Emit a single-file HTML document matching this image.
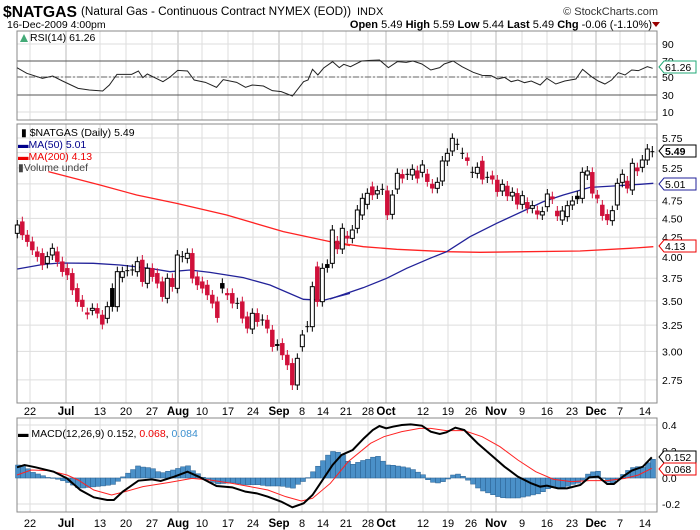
<!DOCTYPE html>
<html><head><meta charset="utf-8"><style>
body{margin:0;background:#fff;}
svg{display:block;font-family:"Liberation Sans",sans-serif;}
</style></head><body>
<svg id="s" width="700" height="530" viewBox="0 0 700 530" xmlns="http://www.w3.org/2000/svg">
<rect width="700" height="530" fill="#fff"/>
<g id="grid"></g>
<g id="cont"></g>
<text x="3" y="17" font-size="16" font-weight="bold" fill="#000" textLength="74" lengthAdjust="spacingAndGlyphs">$NATGAS</text>
<text x="81" y="15" font-size="11.5" textLength="270" lengthAdjust="spacingAndGlyphs">(Natural Gas - Continuous Contract NYMEX (EOD))</text>
<text x="357" y="15" font-size="11">INDX</text>
<text x="7" y="28" font-size="10.5">16-Dec-2009 4:00pm</text>
<text x="658" y="15" font-size="11" text-anchor="end" fill="#333">© StockCharts.com</text>
<text x="652" y="28" font-size="11" text-anchor="end"><tspan font-weight="bold">Open</tspan> 5.49 <tspan font-weight="bold">High</tspan> 5.59 <tspan font-weight="bold">Low</tspan> 5.44 <tspan font-weight="bold">Last</tspan> 5.49 <tspan font-weight="bold">Chg</tspan> -0.06 (-1.10%)</text>
<path d="M652,22 l8,0 l-4,5z" fill="#900"/>
<text x="30" y="41" font-size="10.5">RSI(14) 61.26</text>
<path d="M20,42 l4,-8 l4,8z" fill="#4a7"/>
<text x="21" y="136" font-size="10.5">▮ $NATGAS (Daily) 5.49</text>
<text x="18" y="148" font-size="10.5" fill="#00008b">▬MA(50) 5.01</text>
<text x="18" y="160" font-size="10.5" fill="#e00">▬MA(200) 4.13</text>
<text x="18" y="171" font-size="10.5" fill="#444">▮Volume undef</text>
<text x="18" y="437" font-size="10.5"><tspan>▬ MACD(12,26,9) 0.152, </tspan><tspan fill="#e00">0.068</tspan><tspan>, </tspan><tspan fill="#3a8fcf">0.084</tspan></text>
</svg>
<script>
const NS="http://www.w3.org/2000/svg";
const G=document.getElementById('grid'),C=document.getElementById('cont');
function el(p,t,a,txt){const e=document.createElementNS(NS,t);for(const k in a)e.setAttribute(k,a[k]);if(txt!==undefined)e.textContent=txt;p.appendChild(e);return e;}
const L=17,R=657;
const panels=[[31,120],[124,403],[418,512]];
const dl=[["22",30,0],["Jul",66,1],["13",100,0],["20",126,0],["27",152,0],["Aug",178,1],["10",202,0],["17",228,0],["24",253,0],["Sep",279,1],["8",302,0],["14",323,0],["21",346,0],["28",368,0],["Oct",386,1],["12",423,0],["19",448,0],["26",471,0],["Nov",496,1],["9",522,0],["16",547,0],["23",572,0],["Dec",596,1],["7",620,0],["14",645,0]];
for(const p of panels){
 for(const d of dl) el(G,'line',{x1:d[1],x2:d[1],y1:p[0],y2:p[1],stroke:d[2]?'#bbb':'#ddd','stroke-width':1});
}
for(const [v,y] of [[90,44],[70,61],[50,77],[30,95],[10,112]]){
 el(G,'line',{x1:L,x2:R,y1:y,y2:y,stroke:'#ddd'});
 el(C,'text',{x:662,y:y+4,'font-size':10.5},v);
}
el(C,'line',{x1:L,x2:R,y1:61,y2:61,stroke:'#555'});
el(C,'line',{x1:L,x2:R,y1:95,y2:95,stroke:'#555'});
el(C,'line',{x1:L,x2:R,y1:77,y2:77,stroke:'#666','stroke-dasharray':'6,2,2,2'});
const py=p=>138+328*(Math.log(5.75)-Math.log(p));
for(let v=2.75;v<=5.76;v+=0.25){const y=py(v);el(G,'line',{x1:L,x2:R,y1:y,y2:y,stroke:'#ddd'});el(C,'text',{x:662,y:y+4,'font-size':10.5},v.toFixed(2));}
for(const [v,y] of [["0.4",425],["0.2",451],["0.0",478],["-0.2",504]]){el(G,'line',{x1:L,x2:R,y1:y,y2:y,stroke:'#ddd'});el(C,'text',{x:662,y:y+4,'font-size':10.5},v);}
for(const p of panels) el(C,'rect',{x:L,y:p[0],width:R-L,height:p[1]-p[0],fill:'none',stroke:'#888'});
for(const yy of [415,527]) for(const d of dl) el(C,'text',{x:d[1],y:yy,'font-size':d[2]?11.5:11,'font-weight':d[2]?'bold':'normal','text-anchor':'middle'},d[0]);
function poly(pts,fx,fy,stroke,w){el(C,'polyline',{points:pts.map(p=>fx(p[0])+','+fy(p[1])).join(' '),fill:'none',stroke:stroke,'stroke-width':w});}
const rsi=[[38,203],[60,220],[95,235],[118,228],[140,243],[175,265],[200,270],[230,273],[245,255],[262,223],[295,223],[310,213],[320,233],[330,222],[365,245],[380,232],[398,211],[420,213],[435,240],[460,247],[485,262],[500,239],[530,247],[550,262],[565,255],[590,258],[610,272],[630,275],[655,288],[680,245],[690,240],[700,208],[712,225],[725,204],[745,185],[760,203],[770,193],[785,200],[810,183],[830,181],[850,180],[870,203],[890,185],[910,187],[925,183],[945,192],[965,210],[985,203],[995,192],[1015,183],[1035,200],[1060,217],[1080,226],[1100,227],[1115,237],[1130,232],[1145,245],[1160,240],[1175,248],[1190,243],[1210,255],[1225,235],[1245,252],[1265,243],[1290,237],[1305,208],[1325,230],[1340,243],[1355,252],[1370,240],[1385,218],[1400,225],[1415,210],[1430,212],[1450,200],[1462,205]];
poly(rsi,x=>x/2.24,y=>y/3,'#222',1);
const z3x=x=>10+x/3,z3y=y=>125+y/3,z4x=x=>330+x/3;
poly([[115,140],[270,180],[380,210],[500,235],[650,270],[820,320],[960,350],[1020,362]],z3x,z3y,'#f22',1.3);
poly([[0,350],[100,365],[200,373],[350,380],[450,382],[750,378],[900,370],[970,365]],z4x,z3y,'#f22',1.3);
poly([[22,432],[100,418],[150,414],[250,415],[330,420],[420,430],[480,440],[540,435],[600,442],[700,458],[780,480],[880,523],[940,526],[1020,505]],z3x,z3y,'#229',1.3);
poly([[0,522],[100,488],[170,460],[230,430],[300,400],[350,380],[420,335],[500,295],[580,258],[640,230],[700,210],[780,187],[850,183],[930,178],[970,175]],z4x,z3y,'#229',1.3);
const c3=[[22,300,325,'w'],[37,290,330,'r'],[52,330,350,'r'],[67,350,375,'r'],[82,380,395,'r'],[97,385,420,'r'],[112,395,415,'w'],[127,370,390,'w'],[142,380,410,'r'],[157,410,440,'r'],[172,430,450,'r'],[187,445,495,'r'],[202,490,530,'r'],[217,525,545,'r'],[232,563,568,'r'],[247,550,556,'w'],[262,550,565,'r'],[277,570,598,'r'],[292,545,580,'w'],[307,490,545,'b'],[322,440,545,'w'],[337,440,457,'w'],[352,435,439,'d'],[367,433,437,'d'],[382,410,440,'w'],[397,405,470,'r'],[412,430,475,'w'],[427,430,455,'r'],[442,445,475,'r'],[457,470,515,'r'],[472,460,520,'w'],[487,460,485,'r'],[502,390,490,'w'],[517,393,397,'d'],[532,385,400,'w'],[547,385,460,'r'],[562,455,480,'r'],[577,470,490,'r'],[592,480,510,'r'],[607,510,535,'r'],[622,530,578,'r'],[637,475,490,'b'],[652,505,510,'r'],[667,505,535,'r'],[682,533,537,'d'],[697,530,580,'r'],[712,575,610,'r'],[727,565,612,'w'],[742,565,590,'r'],[757,583,587,'d'],[772,585,610,'r'],[787,615,665,'r'],[802,658,662,'b'],[817,655,690,'r'],[832,690,720,'r'],[847,715,780,'r'],[862,700,780,'w'],[877,630,665,'w'],[892,603,607,'d'],[907,485,605,'w'],[922,425,530,'r'],[937,430,530,'w'],[952,418,428,'b'],[967,315,415,'w']];
const c4=[[22,348,372,'r'],[37,310,372,'w'],[52,333,340,'r'],[67,315,340,'w'],[82,255,310,'w'],[97,220,270,'w'],[112,205,238,'w'],[127,185,210,'r'],[142,197,207,'w'],[157,191,195,'d'],[172,197,270,'r'],[187,210,268,'w'],[202,145,192,'w'],[217,148,160,'r'],[232,146,150,'d'],[247,133,150,'w'],[262,137,160,'r'],[277,120,142,'w'],[292,147,170,'r'],[307,177,190,'r'],[322,172,190,'w'],[337,108,168,'w'],[352,85,108,'w'],[367,40,78,'w'],[382,56,60,'d'],[397,83,87,'d'],[412,98,107,'r'],[427,140,144,'d'],[442,127,145,'w'],[457,108,163,'r'],[472,155,159,'d'],[487,152,163,'r'],[502,165,200,'r'],[517,178,198,'w'],[532,183,213,'r'],[547,202,213,'w'],[562,205,238,'r'],[577,212,238,'w'],[592,232,250,'r'],[607,242,250,'w'],[622,257,268,'r'],[637,260,270,'w'],[652,207,245,'w'],[667,215,222,'r'],[682,258,273,'r'],[697,258,285,'w'],[712,242,275,'w'],[727,228,240,'w'],[742,213,222,'b'],[757,142,220,'w'],[772,138,150,'w'],[787,142,205,'r'],[802,210,220,'r'],[817,240,272,'r'],[832,268,285,'r'],[847,257,287,'w'],[862,175,240,'w'],[877,148,172,'w'],[892,168,190,'r'],[907,115,195,'w'],[922,128,138,'r'],[937,105,127,'w'],[952,72,105,'w'],[967,78,82,'d']];
function candle(x,t,b,tp){
 const top=125+t/3,bot=125+b/3;
 const col=tp==='r'?'#d0103a':'#000';
 el(C,'line',{x1:x,x2:x,y1:top-5,y2:bot+5,stroke:col,'stroke-width':1});
 if(tp==='d'){el(C,'line',{x1:x-2,x2:x+2,y1:(top+bot)/2,y2:(top+bot)/2,stroke:col});return;}
 el(C,'rect',{x:x-2,y:top,width:4,height:Math.max(1,bot-top),fill:tp==='w'?'#fff':col,stroke:col,'stroke-width':tp==='w'?1:0.5});
}
for(const c of c3) candle(z3x(c[0]),c[1],c[2],c[3]);
for(const c of c4) candle(z4x(c[0]),c[1],c[2],c[3]);
const mb=[[38,262],[55,255],[80,262],[120,275],[150,295],[180,330],[210,352],[240,360],[255,360],[275,335],[310,302],[340,298],[360,303],[390,290],[420,275],[445,290],[485,318],[520,322],[550,335],[575,340],[600,350],[630,365],[655,382],[680,370],[700,345],[720,305],[745,255],[765,225],[790,210],[815,175],[835,150],[850,138],[865,145],[880,140],[900,135],[920,133],[945,137],[965,155],[985,162],[1000,157],[1020,143],[1040,150],[1070,190],[1100,225],[1130,260],[1160,290],[1190,310],[1210,320],[1225,317],[1250,325],[1270,325],[1300,315],[1320,292],[1340,290],[1360,312],[1375,312],[1395,290],[1415,272],[1440,260],[1460,232]];
const mr=[[38,285],[70,270],[110,272],[150,285],[175,300],[210,330],[250,345],[280,335],[320,320],[380,307],[430,295],[470,300],[520,310],[560,320],[600,330],[640,350],[675,363],[700,355],[740,310],[780,245],[830,190],[860,170],[900,155],[940,145],[965,145],[1000,152],[1040,152],[1080,170],[1120,200],[1160,240],[1200,275],[1240,298],[1280,305],[1320,302],[1360,302],[1400,295],[1430,285],[1460,265]];
function interp(a,x){for(let i=0;i<a.length-1;i++){if(x>=a[i][0]&&x<=a[i+1][0]){const f=(x-a[i][0])/(a[i+1][0]-a[i][0]);return a[i][1]+f*(a[i+1][1]-a[i][1]);}}return x<a[0][0]?a[0][1]:a[a.length-1][1];}
for(let ox=18;ox<=655;ox+=5){
 const zx=ox*2.24;let d=(interp(mr,zx)-interp(mb,zx))/3;
 d*= d>0?1.7:1.2;
 const y0=478,y1=478-d;
 el(C,'rect',{x:ox-2.5,y:Math.min(y0,y1),width:5,height:Math.max(0.5,Math.abs(d)),fill:'#4a90c8',stroke:'#2a6090','stroke-width':0.5});
}
poly(mr,x=>x/2.24,y=>380+y/3,'#f22',1);
poly(mb,x=>x/2.24,y=>380+y/3,'#000',2);
function tag(y,txt,col,bold){el(C,'path',{d:`M659,${y} l5,-6 h32 v12 h-32z`,fill:'#fff',stroke:col});el(C,'text',{x:665,y:y+4,'font-size':10.5,'font-weight':bold?'bold':'normal',fill:'#000'},txt);}
tag(67,'61.26','#2a7',0);tag(151,'5.49','#000',1);tag(184,'5.01','#229',0);tag(246,'4.13','#e00',0);
tag(457,'0.152','#000',0);tag(469,'0.068','#e00',0);
</script>
</body></html>
